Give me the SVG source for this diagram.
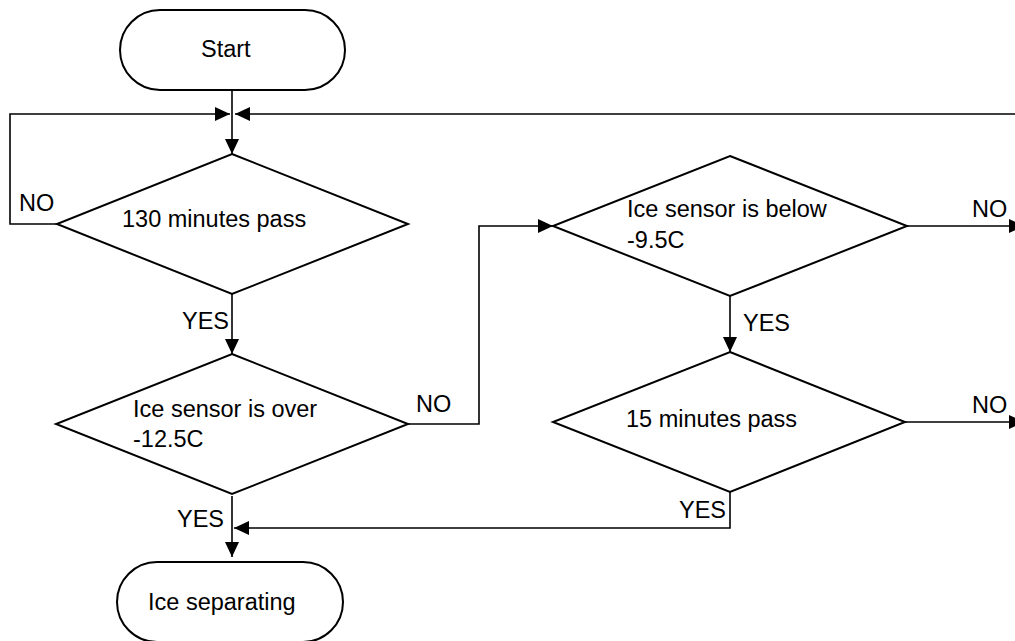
<svg xmlns="http://www.w3.org/2000/svg" width="1015" height="641" viewBox="0 0 1015 641">
<style>
.shape{fill:#fff;stroke:#000;stroke-width:2}
.conn{fill:none;stroke:#000;stroke-width:1.6}
text{font-family:"Liberation Sans",Arial,Helvetica,sans-serif;font-size:23.5px;fill:#000}
</style>
<defs>
<marker id="arr" markerWidth="16" markerHeight="14" refX="15" refY="7" orient="auto" markerUnits="userSpaceOnUse">
<path d="M0,0 L15,7 L0,14 Z" fill="#000"/>
</marker>
</defs>
<rect width="1015" height="641" fill="#fff"/>
<g id="connectors">
<path class="conn" d="M232,90 V154" marker-end="url(#arr)"/>
<path class="conn" d="M57,224 H10 V114 H230" marker-end="url(#arr)"/>
<path class="conn" d="M1016,114 H235" marker-end="url(#arr)"/>
<path class="conn" d="M232,294 V354" marker-end="url(#arr)"/>
<path class="conn" d="M408,424 H479 V226 H553" marker-end="url(#arr)"/>
<path class="conn" d="M232,496 V557" marker-end="url(#arr)"/>
<path class="conn" d="M730,296 V352" marker-end="url(#arr)"/>
<path class="conn" d="M907,226 H1024" marker-end="url(#arr)"/>
<path class="conn" d="M905,422 H1024" marker-end="url(#arr)"/>
<path class="conn" d="M730,492 V528 H234" marker-end="url(#arr)"/>
<text x="19" y="211">NO</text>
<text x="182" y="329">YES</text>
<text x="416" y="412">NO</text>
<text x="972" y="217">NO</text>
<text x="743" y="331">YES</text>
<text x="972" y="413">NO</text>
<text x="679" y="518">YES</text>
<text x="177" y="527">YES</text>
</g>
<g id="start">
<rect class="shape" x="120" y="10" width="225" height="80" rx="40" ry="40"/>
<text x="201" y="57">Start</text>
</g>
<g id="d1">
<polygon class="shape" points="232,154 408,224 232,294 57,224"/>
<text x="122" y="227">130 minutes pass</text>
</g>
<g id="d2">
<polygon class="shape" points="232,354 408,424 232,494 56,424"/>
<text x="133" y="417">Ice sensor is over</text>
<text x="133" y="447">-12.5C</text>
</g>
<g id="d3">
<polygon class="shape" points="730,156 907,226 730,296 553,226"/>
<text x="627" y="217">Ice sensor is below</text>
<text x="627" y="248">-9.5C</text>
</g>
<g id="d4">
<polygon class="shape" points="730,352 905,422 730,492 553,422"/>
<text x="626" y="427">15 minutes pass</text>
</g>
<g id="end">
<rect class="shape" x="117" y="562" width="226" height="80" rx="40" ry="40"/>
<text x="148" y="610">Ice separating</text>
</g>
</svg>
